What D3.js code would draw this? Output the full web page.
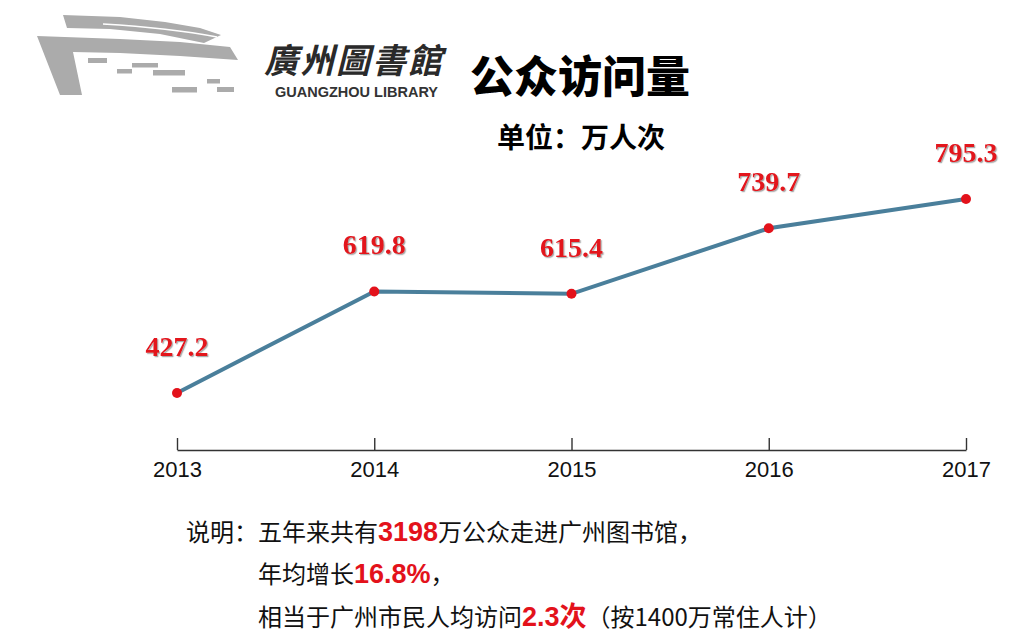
<!DOCTYPE html>
<html>
<head>
<meta charset="utf-8">
<script src="https://d3js.org/d3.v7.min.js"></script>
<style>
  body { margin: 0; background: #ffffff; }
</style>
</head>
<body>
<script>
  // data
  const years = [2013, 2014, 2015, 2016, 2017];
  const visits = [427.2, 619.8, 615.4, 739.7, 795.3];   // 万人次
  const yearLabels = ["2013", "2014", "2015", "2016", "2017"];

  const W = 1033, H = 641;
  const cjk = "'Noto Sans CJK SC', 'Noto Sans', sans-serif";
  const red = "#e3121b";

  const svg = d3.select("body")
    .append("svg")
    .attr("width", W)
    .attr("height", H);

  svg.append("rect")
    .attr("width", W)
    .attr("height", H)
    .attr("fill", "#ffffff");

  // shadow for value labels
  svg.append("defs")
    .append("filter")
    .attr("id", "shadow")
    .append("feDropShadow")
    .attr("dx", 1.2)
    .attr("dy", 1.2)
    .attr("stdDeviation", 0.6)
    .attr("flood-color", "#888")
    .attr("flood-opacity", 0.7);

  // ---- logo ----
  const logo = svg.append("g").attr("fill", "#ababab");
  const shapes = [
    [[63,15],[120,17],[165,22],[200,28],[221,35],[204,43],[160,34],[110,29],[67,28]],
    [[37,36],[120,39],[180,42],[230,47],[238,60],[180,56],[120,53],[73,52],[82,95],[60,95]]
  ];
  shapes.forEach(s => logo.append("path").attr("d", d3.line()(s) + "Z"));
  logo.append("path")
    .attr("d", "M103,24 Q170,28 217,37")
    .attr("stroke", "#ffffff")
    .attr("stroke-width", 1.6)
    .attr("fill", "none");
  const dashes = [
    [88,58,19,5],[117,69,15,4.5],[132,63,26,4.5],[153,70,32,5.5],
    [207,79,13,4.5],[217,87,17,5],[172,87,25,5.5]
  ];
  dashes.forEach(d => logo.append("rect")
    .attr("x", d[0]).attr("y", d[1]).attr("width", d[2]).attr("height", d[3]));

  svg.append("text")
    .attr("x", 264)
    .attr("y", 73)
    .attr("font-family", "'Noto Sans CJK TC', serif")
    .attr("font-size", 34)
    .attr("font-weight", 700)
    .attr("letter-spacing", 2)
    .attr("fill", "#2a2a2a")
    .attr("font-style", "italic")
    .text("廣州圖書館");

  svg.append("text")
    .attr("x", 275)
    .attr("y", 97)
    .attr("font-family", "'Liberation Sans', Arial, sans-serif")
    .attr("font-size", 15)
    .attr("font-weight", 700)
    .attr("fill", "#333")
    .attr("textLength", 163)
    .attr("lengthAdjust", "spacingAndGlyphs")
    .text("GUANGZHOU LIBRARY");

  // ---- titles ----
  svg.append("text")
    .attr("x", 580)
    .attr("y", 93)
    .attr("text-anchor", "middle")
    .attr("font-family", cjk)
    .attr("font-size", 44)
    .attr("font-weight", 900)
    .attr("fill", "#000")
    .text("公众访问量");

  svg.append("text")
    .attr("x", 581)
    .attr("y", 148)
    .attr("text-anchor", "middle")
    .attr("font-family", cjk)
    .attr("font-size", 28)
    .attr("font-weight", 700)
    .attr("fill", "#000")
    .text("单位：万人次");

  // ---- scales ----
  const x = d3.scaleLinear().domain([2013, 2017]).range([177, 966]);
  const y = d3.scaleLinear().domain([320, 800]).range([449.5, 196.5]);

  const pts = years.map((yr, i) => ({ year: yr, v: visits[i] }));

  // axis
  const axis = d3.axisBottom(x)
    .tickValues(years)
    .tickFormat((d, i) => yearLabels[i])
    .tickSizeInner(-12)
    .tickSizeOuter(0)
    .tickPadding(11);

  const ax = svg.append("g")
    .attr("transform", "translate(0,450)")
    .call(axis);
  ax.select(".domain").attr("stroke", "#333").attr("stroke-width", 1.6);
  ax.selectAll(".tick line").attr("stroke", "#333").attr("stroke-width", 1.4);
  ax.selectAll(".tick text")
    .attr("fill", "#111")
    .attr("font-size", 22)
    .attr("font-family", "'Liberation Sans', Arial, sans-serif");

  // line
  svg.append("path")
    .datum(pts)
    .attr("d", d3.line().x(d => x(d.year)).y(d => y(d.v)))
    .attr("fill", "none")
    .attr("stroke", "#4a7f9b")
    .attr("stroke-width", 4);

  svg.selectAll("circle.pt")
    .data(pts)
    .join("circle")
    .attr("class", "pt")
    .attr("cx", d => x(d.year))
    .attr("cy", d => y(d.v))
    .attr("r", 5)
    .attr("fill", red);

  svg.selectAll("text.val")
    .data(pts)
    .join("text")
    .attr("class", "val")
    .attr("x", d => x(d.year))
    .attr("y", d => y(d.v) - 37)
    .attr("text-anchor", "middle")
    .attr("font-family", "'Liberation Serif', 'Times New Roman', serif")
    .attr("font-size", 28)
    .attr("font-weight", 700)
    .attr("fill", red)
    .attr("filter", "url(#shadow)")
    .text(d => d.v.toFixed(1));

  // ---- notes ----
  const notes = [
    { x: 186, y: 541, parts: [["说明：五年来共有", 0], ["3198", 1], ["万公众走进广州图书馆，", 0]] },
    { x: 258, y: 583, parts: [["年均增长", 0], ["16.8%", 1], ["，", 0]] },
    { x: 258, y: 626, parts: [["相当于广州市民人均访问", 0], ["2.3次", 1], ["（按1400万常住人计）", 0]] }
  ];
  notes.forEach(n => {
    const t = svg.append("text")
      .attr("x", n.x)
      .attr("y", n.y)
      .attr("font-family", cjk)
      .attr("font-size", 24)
      .attr("fill", "#111");
    n.parts.forEach(p => {
      t.append("tspan")
        .attr("fill", p[1] ? red : "#111")
        .attr("font-size", p[1] ? 27 : 24)
        .attr("font-weight", p[1] ? 700 : 400)
        .attr("font-family", p[1] ? "'Liberation Sans', " + cjk : cjk)
        .text(p[0]);
    });
  });
</script>
</body>
</html>
